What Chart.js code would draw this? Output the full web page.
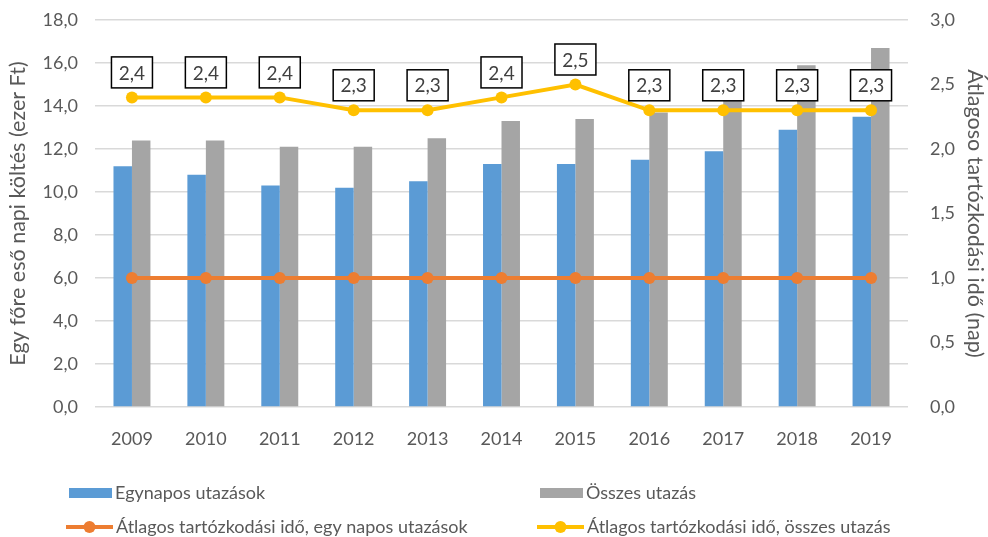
<!DOCTYPE html>
<html><head><meta charset="utf-8">
<script src="https://cdn.jsdelivr.net/npm/chart.js@4.4.1/dist/chart.umd.min.js"></script>
<style>html,body{margin:0;padding:0;background:#fff;}#wrap{width:988px;height:537px;position:relative;}</style>
</head><body><div id="wrap"><canvas id="c" width="988" height="537"></canvas></div>
<script>
const years = ['2009','2010','2011','2012','2013','2014','2015','2016','2017','2018','2019'];
const egynapos = [11.2,10.8,10.3,10.2,10.5,11.3,11.3,11.5,11.9,12.9,13.5];
const osszes = [12.4,12.4,12.1,12.1,12.5,13.3,13.4,13.7,14.7,15.9,16.7];
const idoEgyNap = [1.0,1.0,1.0,1.0,1.0,1.0,1.0,1.0,1.0,1.0,1.0];
const idoOsszes = [2.4,2.4,2.4,2.3,2.3,2.4,2.5,2.3,2.3,2.3,2.3];
const leftTitle = 'Egy főre eső napi költés (ezer Ft)';
const rightTitle = 'Átlagoso tartózkodási idő (nap)';
const seriesNames = ['Egynapos utazások','Összes utazás','Átlagos tartózkodási idő, egy napos utazások','Átlagos tartózkodási idő, összes utazás'];

const FONT = 'Lato, "Open Sans", sans-serif';
const TXT = '#595959';
const fmt = v => Number(v).toFixed(1).replace('.', ',');

const labelPlugin = {
  id: 'boxLabels',
  afterDatasetsDraw(chart) {
    const ctx = chart.ctx;
    const meta = chart.getDatasetMeta(3);
    ctx.save();
    ctx.font = '19px ' + FONT;
    ctx.textAlign = 'center';
    ctx.textBaseline = 'middle';
    meta.data.forEach((pt, i) => {
      const x = pt.x, y = pt.y - 25;
      const w = 41, h = 31;
      ctx.fillStyle = '#fff';
      ctx.fillRect(x - w/2, y - h/2, w, h);
      ctx.strokeStyle = '#000';
      ctx.lineWidth = 1.5;
      ctx.strokeRect(x - w/2, y - h/2, w, h);
      ctx.fillStyle = '#404040';
      ctx.fillText(fmt(idoOsszes[i]), x, y + 1);
    });
    ctx.restore();
  }
};

const legendPlugin = {
  id: 'gridLegend',
  afterDraw(chart) {
    const ctx = chart.ctx;
    const ds = chart.data.datasets;
    const pos = [[69,493],[540,493],[66,527],[537,527]];
    ctx.save();
    ctx.font = '18px ' + FONT;
    ctx.textBaseline = 'middle';
    ctx.textAlign = 'left';
    ds.forEach((d, i) => {
      const [x, y] = pos[i];
      let tx;
      if (d.type === 'bar') {
        ctx.fillStyle = d.backgroundColor;
        ctx.fillRect(x, y - 5, 43, 10);
        tx = x + 46;
      } else {
        ctx.strokeStyle = d.borderColor;
        ctx.lineWidth = 4;
        ctx.beginPath(); ctx.moveTo(x, y); ctx.lineTo(x + 47, y); ctx.stroke();
        ctx.fillStyle = d.borderColor;
        ctx.beginPath(); ctx.arc(x + 23.5, y, 6, 0, Math.PI*2); ctx.fill();
        tx = x + 50;
      }
      ctx.fillStyle = TXT;
      ctx.fillText(d.label, tx, y);
    });
    ctx.restore();
  }
};

function fixV(width) {
  return function (s) { s.width = width; s.paddingTop = 0; s.paddingBottom = 0; };
}

new Chart(document.getElementById('c'), {
  data: {
    labels: years,
    datasets: [
      {type:'bar', label: seriesNames[0], data: egynapos, backgroundColor:'#5B9BD5', yAxisID:'y', order:2, categoryPercentage:0.5, barPercentage:1.0},
      {type:'bar', label: seriesNames[1], data: osszes, backgroundColor:'#A5A5A5', yAxisID:'y', order:2, categoryPercentage:0.5, barPercentage:1.0},
      {type:'line', label: seriesNames[2], data: idoEgyNap, borderColor:'#ED7D31', backgroundColor:'#ED7D31', borderWidth:4, pointRadius:6, pointBackgroundColor:'#ED7D31', pointBorderWidth:0, yAxisID:'y1', order:1, tension:0},
      {type:'line', label: seriesNames[3], data: idoOsszes, borderColor:'#FFC000', backgroundColor:'#FFC000', borderWidth:4, pointRadius:6, pointBackgroundColor:'#FFC000', pointBorderWidth:0, yAxisID:'y1', order:0, tension:0}
    ]
  },
  options: {
    responsive: false,
    animation: false,
    layout: { padding: { top: 20, bottom: 90, left: 0, right: 0 } },
    plugins: { legend: { display: false }, tooltip: { enabled: false } },
    scales: {
      x: {
        grid: { display: false },
        border: { display: false },
        ticks: { color: TXT, font: { family: FONT, size: 18 }, padding: 13 },
        afterFit(s) { s.height = 40; }
      },
      y: {
        position: 'left', min: 0, max: 18,
        ticks: { stepSize: 2, color: TXT, font: { family: FONT, size: 18 }, padding: 17, callback: v => fmt(v) },
        grid: { color: '#D9D9D9', lineWidth: 1.5, drawTicks: false },
        border: { display: false },
        title: { display: true, text: leftTitle, color: TXT, font: { family: FONT, size: 21.5 }, padding: { top: 5, bottom: 0 } },
        afterFit: fixV(95)
      },
      y1: {
        position: 'right', min: 0, max: 3,
        ticks: { stepSize: 0.5, color: TXT, font: { family: FONT, size: 18 }, padding: 22, callback: v => fmt(v) },
        grid: { display: false, drawTicks: false },
        border: { display: false },
        title: { display: true, text: rightTitle, color: TXT, font: { family: FONT, size: 21.5 }, padding: { top: 0, bottom: 0 } },
        afterFit: fixV(80)
      }
    }
  },
  plugins: [labelPlugin, legendPlugin]
});
</script></body></html>
